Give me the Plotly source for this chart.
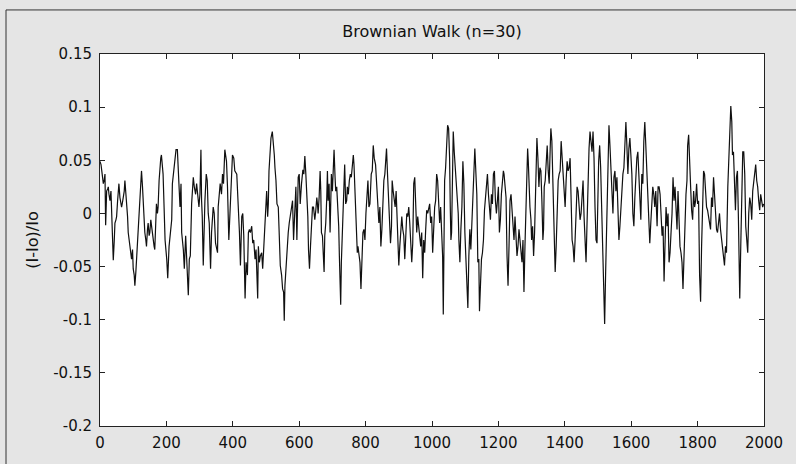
import plotly.graph_objects as go

# ---- data (x = sample index, y = (I-Io)/Io) ----
x_seg1 = [0,3,5,8,10,13,15,17,20,23,25,27,30,33,35,38,40,43,45,48,50,53,55,57,60,63,65,68,70,73,
          75,78,80,83,85,88,90,93,95,98,100,103,105,108,110,113,115,118,120,123,125,128,130,133,135,
          138,140,143,145,148,150,153,155,158,160,163,165,168,170,173,175,178,180,183,185,188,190,193]
y_seg1 = [0.049,0.046,0.041,0.034,0.028,0.032,0.037,-0.011,0.021,0.023,0.025,0.018,0.012,0.021,-0.003,
          -0.031,-0.044,-0.025,-0.009,-0.006,-0.003,0.012,0.025,0.028,0.015,0.009,0.006,0.011,0.014,0.021,
          0.031,0.021,0.012,-0.003,-0.018,-0.025,-0.031,-0.037,-0.043,-0.034,-0.052,-0.058,-0.068,-0.055,-0.043,
          -0.031,-0.021,0.006,0.021,0.034,0.040,0.025,0.009,-0.006,-0.018,-0.025,-0.031,-0.015,-0.009,-0.021,
          -0.018,-0.006,-0.012,-0.021,-0.028,-0.031,-0.034,-0.009,0.009,0.000,0.006,0.031,0.045,0.052,0.055,
          0.046,0.037,0.006]

x_seg2 = [196,201,204,208,211,216,218,221,226,229,233,236,238,241,244,246,251,254,258,261,264,266,269,272,
          276,281,284,288,291,294,298,301,304,306,308,311,314,316,320,323,326,329,333,336,341,344,348,351,
          354,356,359,362,366,369,372,376,381,384,388,392,396,399,403,406]
y_seg2 = [-0.025,-0.043,-0.061,-0.031,-0.018,-0.006,0.028,0.037,0.046,0.060,0.060,0.037,0.018,0.006,0.028,
          -0.018,-0.034,-0.052,-0.021,-0.043,-0.058,-0.077,-0.043,-0.040,0.009,0.034,0.025,0.018,0.028,0.015,
          0.006,0.018,0.060,0.012,-0.003,-0.049,-0.003,0.012,0.037,0.031,0.000,-0.009,-0.052,-0.018,0.006,
          0.000,-0.028,-0.034,-0.037,0.006,0.021,0.028,0.018,0.037,0.028,0.060,0.049,0.025,-0.025,0.006,
          0.037,0.055,0.052,0.040]

x_seg3 = [412,417,420,423,427,430,433,437,440,444,447,450,453,457,460,463,467,470,473,475,477,480,483,487,
          490,495,499,502,505,507,509,512,515,519,522,525,527,530,533,537,540,543,547,550,553,555,557,560,
          563,567,570,573,577,580,583,587,590,593,597,600,603,607,611,614,617]
y_seg3 = [0.037,0.009,-0.018,-0.049,-0.003,0.000,-0.021,-0.080,-0.046,-0.058,-0.018,-0.015,-0.018,-0.012,
          -0.028,-0.025,-0.043,-0.034,-0.064,-0.080,-0.031,-0.046,-0.040,-0.037,-0.052,-0.015,0.015,0.021,
          -0.003,0.009,0.040,0.058,0.071,0.077,0.068,0.055,0.043,0.031,0.009,0.006,-0.021,-0.049,-0.058,
          -0.071,-0.074,-0.101,-0.068,-0.049,-0.037,-0.018,-0.009,-0.003,0.006,0.012,-0.025,0.006,0.025,
          -0.025,0.034,0.037,0.009,0.028,0.041,0.037,0.054]

x_seg4 = [620,623,626,628,631,634,637,640,643,647,650,653,655,657,660,663,665,667,670,673,675,677,680,683,
          685,687,690,693,697,700,703,705,708,710,713,716,719,721,723,725,727,730,733,735,737,740,743,745,
          748,751,754,757,760,763,765,767,769,772,775,777,780,783,786,789,792,795,798,801,804,807,810,813,
          817,820,823,826]
y_seg4 = [0.037,0.021,-0.003,-0.034,-0.052,-0.031,-0.012,0.006,0.006,-0.006,0.003,0.015,0.009,0.000,0.015,
          0.040,0.021,-0.018,-0.021,-0.037,-0.055,-0.021,-0.009,0.015,0.040,0.012,0.028,-0.018,0.037,0.021,
          0.049,0.060,0.034,0.021,0.025,0.006,-0.012,-0.040,-0.058,-0.086,-0.046,-0.012,0.006,0.034,0.046,
          0.009,0.012,0.025,0.018,0.031,0.037,0.034,0.043,0.055,0.046,0.025,0.006,-0.028,-0.037,-0.031,
          -0.040,-0.046,-0.071,-0.037,-0.018,-0.015,-0.025,0.000,0.018,0.031,0.006,0.009,0.037,0.040,0.064,
          0.052]

x_seg5 = [830,832,834,837,840,843,846,849,852,855,858,861,863,866,869,872,875,878,880,883,886,889,892,895,
          898,900,903,906,909,912,915,918,921,924,927,930,933,936,939,942,945,948,951,954,957,960,963,966,
          969,972,975,978,981,984,987,990,993,996,999,1002,1005,1008,1011,1014,1017,1020,1023,1026,1029,
          1032,1034,1036,1038]
y_seg5 = [0.046,0.037,0.025,0.006,-0.009,0.006,-0.031,-0.015,0.009,0.031,0.037,0.052,0.061,0.037,0.018,
          -0.003,-0.028,-0.012,0.031,0.021,0.012,0.006,0.021,-0.003,-0.028,-0.049,-0.031,-0.015,-0.003,-0.015,
          -0.021,-0.043,-0.009,0.000,-0.003,0.006,-0.009,-0.031,-0.046,-0.028,0.028,0.034,0.009,-0.018,-0.003,
          -0.012,-0.018,-0.031,-0.018,-0.061,-0.025,-0.037,-0.015,0.003,0.000,0.006,0.009,-0.009,-0.003,-0.037,
          -0.012,0.006,0.012,0.037,0.031,0.009,-0.009,0.006,-0.012,-0.040,-0.095,-0.009,0.031]

x_seg6 = [1041,1044,1047,1050,1053,1055,1057,1059,1061,1064,1067,1070,1073,1076,1079,1081,1084,1087,1090,
          1093,1096,1099,1102,1105,1108,1111,1114,1117,1120,1123,1126,1129,1132,1135,1138,1141,1143,1146,
          1149,1152,1155,1158,1161,1164,1167,1170,1173,1176,1179,1182,1185,1188,1191,1194,1197,1200,1203,
          1206,1209,1212,1215,1217,1220,1223,1226,1229,1232,1235,1238,1241,1244,1247]
y_seg6 = [0.043,0.068,0.083,0.080,0.052,0.006,-0.025,-0.018,0.037,0.077,0.058,0.043,0.037,0.021,0.000,
          -0.025,-0.046,-0.015,0.006,0.049,0.028,-0.018,-0.046,-0.068,-0.089,-0.040,-0.015,-0.034,-0.003,0.012,
          0.037,0.061,0.043,0.018,-0.046,-0.043,-0.092,-0.055,-0.043,-0.037,-0.025,0.003,0.018,0.031,0.037,
          0.018,0.006,-0.006,0.018,0.009,0.037,0.040,0.012,0.000,0.012,0.025,-0.018,-0.006,0.018,0.031,
          0.040,0.037,0.028,0.015,-0.040,-0.068,-0.031,0.012,0.018,0.006,-0.006,-0.025]

x_seg7 = [1250,1253,1256,1259,1262,1265,1268,1271,1274,1277,1280,1283,1286,1288,1290,1292,1295,1298,1300,
          1303,1306,1309,1312,1314,1316,1319,1322,1325,1328,1331,1334,1336,1338,1341,1344,1347,1350,1353,
          1356,1358,1361,1364,1367,1369,1371,1374,1377,1380,1383,1386,1389,1392,1395,1398,1401,1404,1407,
          1410,1413,1416,1419,1422,1425,1428,1431,1434,1437,1440,1443,1446,1449,1452,1455,1458]
y_seg7 = [-0.003,-0.018,-0.040,-0.031,-0.015,-0.025,-0.037,-0.046,-0.025,-0.074,-0.031,0.006,0.037,0.061,
          0.049,0.025,0.006,-0.006,-0.025,-0.012,-0.040,-0.018,0.012,0.031,0.071,0.052,0.025,0.043,0.040,
          0.012,-0.025,-0.015,0.025,0.031,0.052,0.064,0.040,0.028,0.061,0.080,0.068,0.037,0.000,-0.028,
          -0.055,-0.031,0.003,0.031,0.037,0.040,0.068,0.055,0.037,0.025,0.006,0.031,0.049,0.040,0.043,
          0.052,-0.009,-0.025,-0.031,-0.046,-0.025,0.009,0.025,0.021,0.006,-0.006,0.000,0.012,0.031,-0.003]

x_seg8 = [1461,1464,1467,1470,1473,1476,1479,1482,1485,1488,1491,1494,1497,1499,1502,1505,1508,1511,1514,
          1517,1520,1523,1525,1527,1529,1531,1533,1536,1539,1542,1545,1548,1551,1554,1557,1560,1563,1566,
          1569,1572,1575,1578,1581,1584,1587,1590,1593,1596,1599,1602,1605,1608,1611,1614,1617,1620,1623,
          1626,1629,1632,1635,1638,1641,1644,1647,1650,1653,1656,1659,1662,1665,1668,1671]
y_seg8 = [-0.025,-0.046,-0.009,0.040,0.061,0.077,0.064,0.058,0.077,0.052,0.006,-0.025,-0.028,0.028,0.049,
          0.064,0.043,0.006,-0.040,-0.071,-0.104,-0.055,-0.025,0.021,0.052,0.077,0.083,0.064,0.031,0.021,
          0.000,0.034,0.040,0.021,0.034,-0.003,-0.025,-0.012,0.006,0.031,0.037,0.043,0.068,0.086,0.064,
          0.037,0.061,0.071,0.055,0.037,0.000,-0.012,0.015,0.037,0.052,0.058,0.037,0.012,-0.006,0.037,
          0.028,0.068,0.086,0.064,0.037,0.006,-0.009,-0.028,-0.009,0.006,0.025,0.018,0.006]

x_seg9 = [1674,1676,1678,1681,1684,1687,1690,1693,1696,1699,1702,1705,1708,1711,1714,1717,1720,1723,1726,
          1729,1732,1735,1738,1741,1744,1747,1750,1753,1756,1759,1762,1765,1768,1770,1773,1776,1779,1782,
          1785,1788,1791,1794,1797,1800,1803,1806,1809,1812,1815,1818,1821,1824,1827,1830,1833,1836,1839,
          1842,1845,1848,1851,1854,1857,1860,1863,1866,1869,1872,1875,1878,1881,1884,1887]
y_seg9 = [0.021,0.000,-0.012,0.025,0.025,0.018,-0.006,-0.021,-0.012,-0.064,-0.028,0.006,-0.012,0.000,-0.046,
          -0.037,-0.018,0.000,0.034,0.012,0.025,0.006,-0.015,0.021,-0.006,-0.031,-0.037,-0.046,-0.071,-0.037,
          0.000,0.018,0.031,0.064,0.074,0.040,0.025,0.003,-0.006,0.021,0.006,0.012,0.028,0.009,0.012,
          -0.058,-0.083,-0.031,0.000,0.040,0.037,0.021,0.006,0.003,-0.003,-0.006,-0.015,0.015,0.006,0.034,
          0.015,0.000,-0.015,-0.018,-0.006,0.000,-0.015,-0.025,-0.034,-0.043,-0.049,-0.031,-0.037]

x_seg10 = [1891,1894,1897,1900,1903,1905,1908,1911,1914,1917,1920,1923,1925,1927,1930,1933,1936,1939,1942,
           1945,1948,1951,1954,1957,1960,1963,1966,1969,1972,1975,1978,1981,1984,1987,1990,1993,1996,1999]
y_seg10 = [0.025,0.049,0.077,0.101,0.086,0.055,0.058,0.025,0.003,0.034,0.040,-0.006,-0.040,-0.080,-0.031,
           0.025,0.058,0.058,0.037,-0.012,-0.028,-0.037,0.000,0.015,0.009,-0.006,0.021,0.031,0.040,0.046,
           0.031,0.025,0.012,0.003,0.018,0.012,0.006,0.009]

x_ticks = [0, 200, 400, 600, 800, 1000, 1200, 1400, 1600, 1800, 2000]
x_tick_labels = ["0", "200", "400", "600", "800", "1000", "1200", "1400", "1600", "1800", "2000"]
y_ticks = [-0.2, -0.15, -0.1, -0.05, 0, 0.05, 0.1, 0.15]
y_tick_labels = ["-0.2", "-0.15", "-0.1", "-0.05", "0", "0.05", "0.1", "0.15"]

x_all = (x_seg1 + x_seg2 + x_seg3 + x_seg4 + x_seg5 + x_seg6 + x_seg7 + x_seg8 + x_seg9 + x_seg10)
y_all = (y_seg1 + y_seg2 + y_seg3 + y_seg4 + y_seg5 + y_seg6 + y_seg7 + y_seg8 + y_seg9 + y_seg10)

W, H = 796, 464
L, R, T, B = 100, 32, 54, 30
pw, ph = W - L - R, H - T - B

fig = go.Figure()
fig.add_trace(go.Scatter(x=x_all, y=y_all, mode="lines",
                         line=dict(color="#101010", width=1.2), hoverinfo="skip", showlegend=False))

FAM = "DejaVu Sans, Liberation Sans, sans-serif"
font = dict(family=FAM, size=15, color="#111111")
axis_common = dict(showline=True, linecolor="#222222", linewidth=1, mirror="ticks",
                   ticks="inside", ticklen=5, tickcolor="#222222", showgrid=False, zeroline=False,
                   tickfont=font)

fig.update_layout(
    width=W, height=H,
    margin=dict(l=L, r=R, t=T, b=B),
    paper_bgcolor="#e5e5e5", plot_bgcolor="#ffffff",
    font=font,
    title=dict(text="Brownian Walk (n=30)", x=(L + pw / 2) / W, xanchor="center",
               y=1 - 31 / H, yanchor="middle", font=dict(family=FAM, size=16, color="#111111")),
    xaxis=dict(range=[0, 2000], tickvals=x_ticks, ticktext=x_tick_labels, ticklabelstandoff=3,
               **axis_common),
    yaxis=dict(range=[-0.2, 0.15], tickvals=y_ticks, ticktext=y_tick_labels, ticklabelstandoff=4,
               title=dict(text="(I-Io)/Io", standoff=10, font=dict(family=FAM, size=16, color="#111111")),
               **axis_common),
)

# outer figure frame
fig.add_shape(type="rect", xref="paper", yref="paper",
              x0=(6 - L) / pw, x1=(W + 10 - L) / pw,
              y0=-(B + 10) / ph, y1=(H - B - 9) / ph,
              line=dict(color="#333333", width=1), fillcolor="rgba(0,0,0,0)", layer="below")

fig.write_html("out.html")
